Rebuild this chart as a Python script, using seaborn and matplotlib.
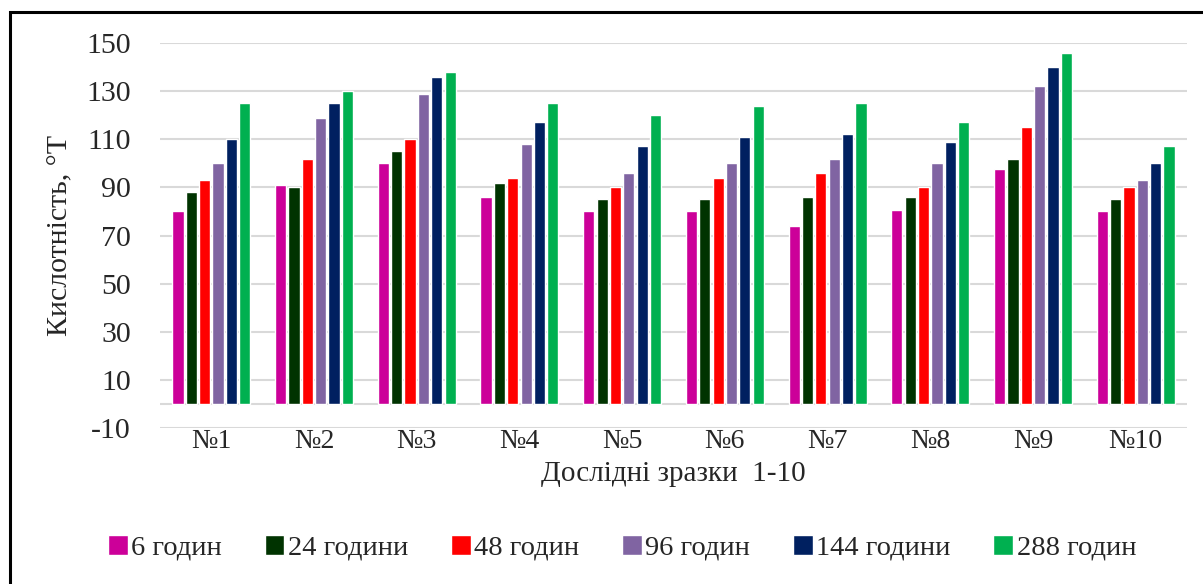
import matplotlib
matplotlib.use("Agg")
import matplotlib.pyplot as plt
import seaborn as sns
import pandas as pd
from matplotlib.patches import Rectangle

# Samples and acidity readings (°T) at each fermentation time
samples = ["№1", "№2", "№3", "№4", "№5", "№6", "№7", "№8", "№9", "№10"]
periods = ["6 годин", "24 години", "48 годин", "96 годин", "144 години", "288 годин"]
h6 = [80, 91, 100, 86, 80, 80, 74, 80.5, 97.5, 80]
h24 = [88, 90, 105, 92, 85, 85, 86, 86, 102, 85]
h48 = [93, 102, 110, 94, 90, 94, 96, 90, 115, 90]
h96 = [100, 119, 129, 108, 96, 100, 102, 100, 132, 93]
h144 = [110, 125, 136, 117, 107, 111, 112, 109, 140, 100]
h288 = [125, 130, 138, 125, 120, 124, 125, 117, 146, 107]
colors = ["#CC0099", "#003300", "#FF0000", "#8064A2", "#002060", "#00B050"]
y_ticks = [-10, 10, 30, 50, 70, 90, 110, 130, 150]

series = [h6, h24, h48, h96, h144, h288]
df = pd.DataFrame(
    [(s, p, v) for p, vals in zip(periods, series) for s, v in zip(samples, vals)],
    columns=["sample", "period", "value"],
)

sns.set_theme(style="white")
plt.rcParams["font.family"] = ["Liberation Serif", "DejaVu Serif"]

W, H = 1203, 584
fig = plt.figure(figsize=(W / 100, H / 100), dpi=100)
ax = fig.add_axes([160 / W, 1 - 428 / H, (1187 - 160) / W, (428 - 43) / H])

sns.barplot(
    data=df, x="sample", y="value", hue="period", order=samples,
    hue_order=periods, palette=colors, saturation=1, width=0.78, gap=0.16,
    ax=ax, legend=True,
)

ax.set_ylim(-10, 150)
ax.set_yticks(y_ticks)
ax.set_yticklabels([str(t) for t in y_ticks])
for t in y_ticks:
    ax.axhline(t, color="#D9D9D9", lw=1.5, zorder=0)
ax.axhline(0, color="#D9D9D9", lw=1.5, zorder=0)
for s in ax.spines.values():
    s.set_visible(False)
ax.grid(False)
ax.tick_params(axis="y", length=0, pad=21, labelsize=21.5, colors="#262626")
ax.tick_params(axis="x", length=0, pad=1, labelsize=20, colors="#262626")

ax.set_xlabel("Дослідні зразки  1-10", fontsize=21, color="#262626")
ax.set_ylabel("Кислотність, °Т", fontsize=21.5, color="#262626")
ax.xaxis.set_label_coords(0.5, -0.085)
ax.yaxis.set_label_coords(-0.084, 0.5)

handles, labels = ax.get_legend_handles_labels()
ax.legend(
    handles, labels, loc="center", bbox_to_anchor=(622 / W, 1 - 548 / H),
    bbox_transform=fig.transFigure, ncol=6, frameon=False, fontsize=20.5,
    handlelength=0.7, handleheight=0.7, handletextpad=0.12, columnspacing=1.5,
    labelcolor="#262626",
)

# outer frame of the figure
fig.patches.append(Rectangle((10 / W, -0.05), 1.2, 1 - 12 / H + 0.05,
                             transform=fig.transFigure, fill=False,
                             edgecolor="black", lw=2.2, zorder=10))

fig.savefig("out.png", dpi=100, facecolor="white")
